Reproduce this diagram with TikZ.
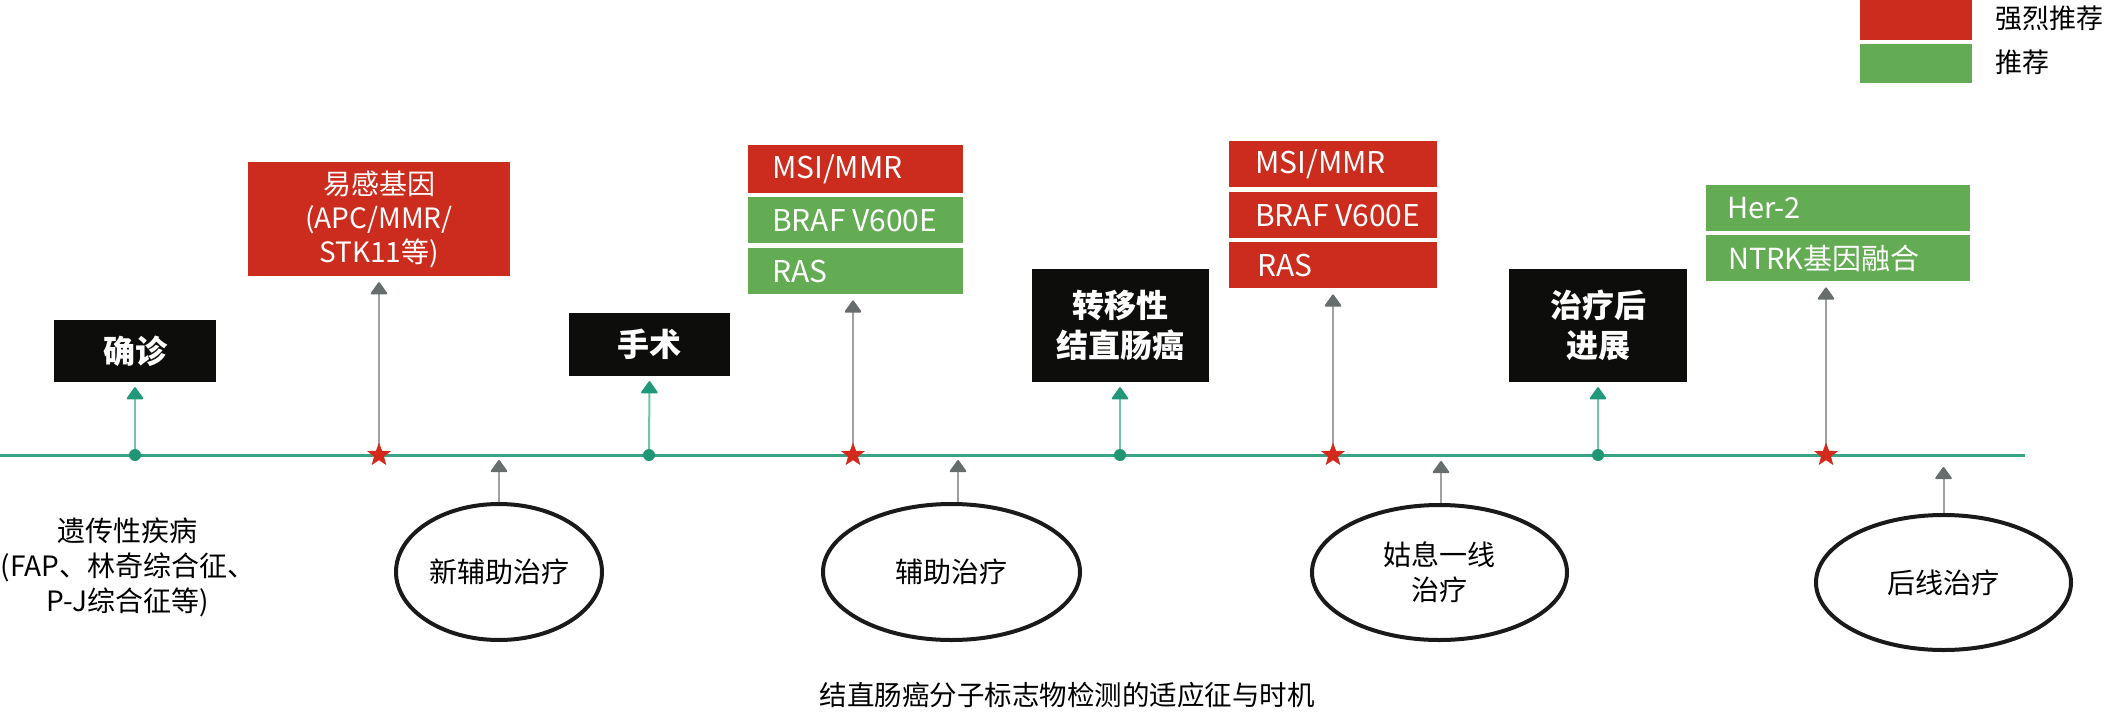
\documentclass[tikz,border=0pt]{standalone}
\usepackage{fontspec}
\setmainfont{Noto Sans CJK SC}
\usetikzlibrary{shapes.geometric,arrows.meta,backgrounds,calc}
\definecolor{mred}{RGB}{204,44,30}
\definecolor{mgreen}{RGB}{99,172,83}
\definecolor{boxblk}{RGB}{13,13,11}
\definecolor{tline}{RGB}{58,162,133}
\definecolor{dotteal}{RGB}{32,150,116}
\definecolor{mint}{RGB}{112,196,168}
\definecolor{arrteal}{RGB}{33,152,121}
\definecolor{lgrey}{RGB}{160,160,160}
\definecolor{dgrey}{RGB}{103,108,108}
\definecolor{starred}{RGB}{212,42,30}
\definecolor{ellblk}{RGB}{26,26,26}
\tikzset{
  blackbox/.style={fill=boxblk, text=white, font=\bfseries\fontsize{32}{40}\selectfont, align=center, inner sep=0pt},
  redbox/.style={fill=mred, text=white, font=\fontsize{28}{34}\selectfont, align=center, inner sep=0pt},
  rowbox/.style={anchor=north west, inner sep=0pt},
  rowtext/.style={anchor=west, inner sep=0pt, text=white, font=\fontsize{30}{36}\selectfont},
  ell/.style={ellipse, draw=ellblk, line width=4pt, fill=white, inner sep=0pt, align=center, font=\fontsize{28}{35}\selectfont},
  gdot/.style={circle, fill=dotteal, inner sep=0pt, minimum size=12pt},
  rstar/.style={star, star points=5, star point ratio=2.4, fill=starred, inner sep=0pt, minimum size=25pt},
  garrow/.style={draw=mint, line width=2pt, shorten >=5pt, -{Triangle[width=18pt,length=13pt,round,color=arrteal,fill=arrteal]}},
  grarrow/.style={draw=lgrey, line width=2pt, shorten >=6pt, -{Triangle[width=18pt,length=13pt,round,color=dgrey,fill=dgrey]}},
  legbox/.style={anchor=north west, inner sep=0pt, minimum width=112pt},
  legtext/.style={anchor=west, font=\fontsize{27}{32}\selectfont, text=black},
  plaintext/.style={align=center, font=\fontsize{28}{35}\selectfont, text=black}
}
\begin{document}
\begin{tikzpicture}[x=1pt,y=-1pt]
\useasboundingbox (0,0) rectangle (2105,715);
% timeline ends
\coordinate (tl0) at (0,455);
\coordinate (tl1) at (2025,455);
% legend
\node[legbox, fill=mred, minimum height=40pt] (lr) at (1860,0) {};
\node[legbox, fill=mgreen, minimum height=39pt] (lg) at (1860,44) {};
\node[legtext] (lrt) at (1992,18) {强烈推荐};
\node[legtext] (lgt) at (1992,62) {推荐};
% markers on timeline
\node[gdot] (d1) at (135,455) {};
\node[gdot] (d2) at (649,455) {};
\node[gdot] (d3) at (1120,455) {};
\node[gdot] (d4) at (1598,455) {};
\node[rstar] (s1) at (379,455) {};
\node[rstar] (s2) at (853,455) {};
\node[rstar] (s3) at (1333,455) {};
\node[rstar] (s4) at (1826,455) {};
% black boxes
\node[blackbox, minimum width=162pt, minimum height=62pt] (b1) at (135,351) {确诊};
\node[blackbox, minimum width=161pt, minimum height=63pt] (b2) at (649.5,344.5) {手术};
\node[blackbox, minimum width=177pt, minimum height=113pt] (b3) at (1120,325.5) {转移性\\结直肠癌};
\node[blackbox, minimum width=178pt, minimum height=113pt] (b4) at (1598,325.5) {治疗后\\进展};
% susceptibility box
\node[redbox, minimum width=262pt, minimum height=114pt] (g1) at (379,219) {易感基因\\(APC/MMR/\\STK11等)};
% group after surgery
\node[rowbox, fill=mred, minimum width=215pt, minimum height=48pt] (m1) at (748,145) {};
\node[rowbox, fill=mgreen, minimum width=215pt, minimum height=46pt] (m2) at (748,197) {};
\node[rowbox, fill=mgreen, minimum width=215pt, minimum height=46pt] (m3) at (748,248) {};
\node[rowtext] (m1t) at ([xshift=24pt]m1.west) {MSI/MMR};
\node[rowtext] (m2t) at ([xshift=24pt]m2.west) {BRAF V600E};
\node[rowtext] (m3t) at ([xshift=24pt]m3.west) {RAS};
% group metastatic
\node[rowbox, fill=mred, minimum width=208pt, minimum height=46pt] (n1) at (1229,141) {};
\node[rowbox, fill=mred, minimum width=208pt, minimum height=46pt] (n2) at (1229,192) {};
\node[rowbox, fill=mred, minimum width=208pt, minimum height=46pt] (n3) at (1229,242) {};
\node[rowtext] (n1t) at ([xshift=26pt]n1.west) {MSI/MMR};
\node[rowtext] (n2t) at ([xshift=26pt]n2.west) {BRAF V600E};
\node[rowtext] (n3t) at ([xshift=28pt]n3.west) {RAS};
% group progression
\node[rowbox, fill=mgreen, minimum width=264pt, minimum height=46pt] (h1) at (1706,185) {};
\node[rowbox, fill=mgreen, minimum width=264pt, minimum height=46pt] (h2) at (1706,235) {};
\node[rowtext, font=\fontsize{29}{35}\selectfont] (h1t) at ([xshift=21pt]h1.west) {Her-2};
\node[rowtext, font=\fontsize{29}{35}\selectfont] (h2t) at ([xshift=22pt]h2.west) {NTRK基因融合};
% ellipses
\node[ell, minimum width=206pt, minimum height=136pt] (e1) at (499,572) {新辅助治疗};
\node[ell, minimum width=257pt, minimum height=136pt] (e2) at (951.5,572) {辅助治疗};
\node[ell, minimum width=255pt, minimum height=135pt] (e3) at (1439.5,572.5) {姑息一线\\治疗};
\node[ell, minimum width=255pt, minimum height=135pt] (e4) at (1943.5,582.5) {后线治疗};
\coordinate (a2) at (958,455);
\coordinate (a3) at (1441,455);
% texts
\node[plaintext] (hd) at (128,567) {遗传性疾病\\(FAP、林奇综合征、\\P-J综合征等)};
\node[plaintext, font=\fontsize{27.5}{32}\selectfont] (cap) at (1067,695) {结直肠癌分子标志物检测的适应征与时机};
% connectors
\begin{scope}[on background layer]
\draw[draw=tline, line width=3pt] (tl0) -- (tl1);
\draw[garrow] (d1.center) -- (b1.south);
\draw[garrow] (d2.center) -- (b2.south);
\draw[garrow] (d3.center) -- (b3.south);
\draw[garrow] (d4.center) -- (b4.south);
\draw[grarrow] (s1.center) -- (s1.center |- g1.south);
\draw[grarrow] (s2.center) -- (s2.center |- m3.south);
\draw[grarrow] (s3.center) -- (s3.center |- n3.south);
\draw[grarrow] (s4.center) -- (s4.center |- h2.south);
\draw[grarrow, shorten >=5pt] (e1.north) -- (e1.north |- tl0);
\draw[grarrow, shorten >=5pt] (e2.north -| a2) -- (a2);
\draw[grarrow, shorten >=6pt] (e3.north -| a3) -- (a3);
\draw[grarrow, shorten >=12pt] ([yshift=-7pt]e4.north) -- (e4.north |- tl0);
\end{scope}
\end{tikzpicture}
\end{document}
